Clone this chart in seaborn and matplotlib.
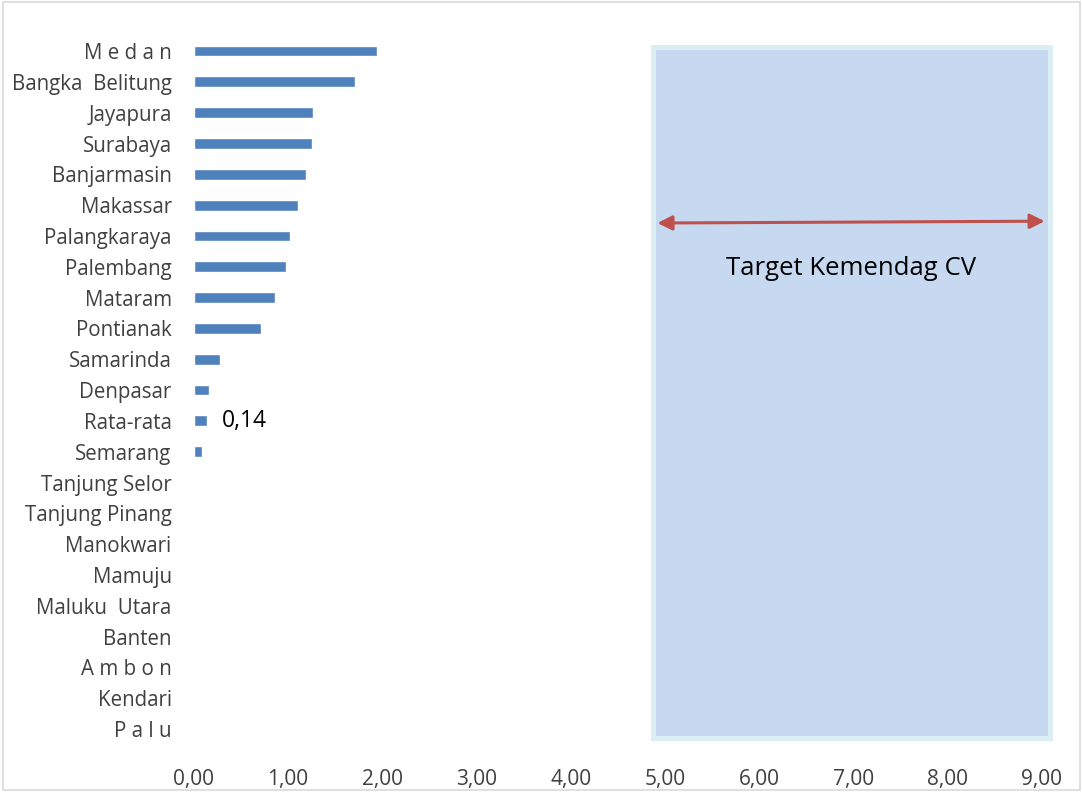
import matplotlib
matplotlib.use("Agg")
import matplotlib.pyplot as plt
import matplotlib.patches as mpatches
import matplotlib.transforms as mtransforms
import seaborn as sns
import pandas as pd

cities = ["M e d a n", "Bangka  Belitung", "Jayapura", "Surabaya", "Banjarmasin",
          "Makassar", "Palangkaraya", "Palembang", "Mataram", "Pontianak",
          "Samarinda", "Denpasar", "Rata-rata", "Semarang", "Tanjung Selor",
          "Tanjung Pinang", "Manokwari", "Mamuju", "Maluku  Utara", "Banten",
          "A m b o n", "Kendari", "P a l u"]
cv_values = [1.94, 1.71, 1.26, 1.25, 1.19, 1.10, 1.02, 0.98, 0.86, 0.71,
             0.28, 0.16, 0.14, 0.09, 0, 0, 0, 0, 0, 0, 0, 0, 0]
x_ticks = [0, 1, 2, 3, 4, 5, 6, 7, 8, 9]
target_range = (4.87, 9.09)
target_label = "Target Kemendag CV"
avg_label_city = "Rata-rata"

df = pd.DataFrame({"kota": cities, "cv": cv_values})

sns.set_theme(style="white")
plt.rcParams["font.family"] = ["Open Sans", "DejaVu Sans"]

fig = plt.figure(figsize=(10.83, 7.92), dpi=100)
ax = fig.add_axes([0.179, 0.060, 0.783, 0.895])

sns.barplot(data=df, y="kota", x="cv", orient="h", color="#4F81BD",
            saturation=1, width=0.35, ax=ax)

ax.set_xlim(0, 9)
ax.set_ylim(len(cities) - 0.5, -0.5)
ax.set_xticks(x_ticks)
ax.set_xticklabels([f"{v:.2f}".replace(".", ",") for v in x_ticks])
ax.set_xlabel("")
ax.set_ylabel("")
ax.tick_params(axis="x", length=0, pad=18, labelsize=15, labelcolor="#404040")
ax.tick_params(axis="y", length=0, pad=16, labelsize=14.8, labelcolor="#404040")
for s in ax.spines.values():
    s.set_visible(False)

# target band
trans = mtransforms.blended_transform_factory(ax.transData, ax.transAxes)
band = mpatches.Rectangle((target_range[0], 0.0095),
                          target_range[1] - target_range[0], 0.9745,
                          transform=trans, facecolor="#C6D9F0",
                          edgecolor="#DAEEF3", linewidth=3.6, clip_on=False,
                          zorder=0)
ax.add_patch(band)

ax.annotate("", xy=(target_range[0] + 0.05, 5.58), xytext=(target_range[1] - 0.06, 5.52),
            arrowprops=dict(arrowstyle="<|-|>", color="#C0504D", lw=2.2,
                            mutation_scale=22, shrinkA=0, shrinkB=0),
            annotation_clip=False, zorder=3)
ax.text((target_range[0] + target_range[1]) / 2, 7.05, target_label,
        ha="center", va="center", fontsize=18.5, color="black", zorder=3)

# average value label
avg_idx = cities.index(avg_label_city)
avg_val = cv_values[avg_idx]
ax.text(avg_val + 0.16, avg_idx, f"{avg_val:.2f}".replace(".", ","),
        ha="left", va="center", fontsize=16.5, color="black")

fig.patches.append(mpatches.Rectangle((0.003, 0.003), 0.994, 0.994,
                                      transform=fig.transFigure, fill=False,
                                      edgecolor="#D9D9D9", linewidth=1.2))

fig.savefig("out.png", dpi=100, facecolor="white")
